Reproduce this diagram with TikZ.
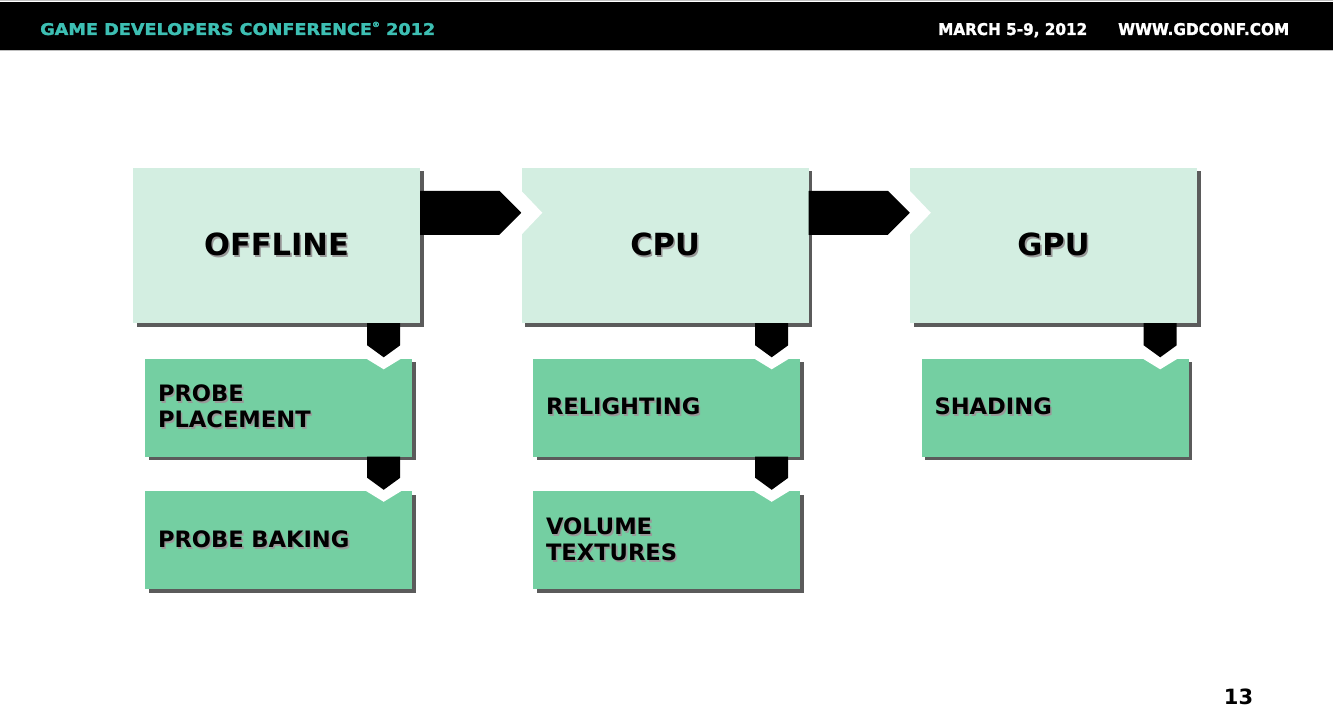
\documentclass[tikz,border=0pt]{standalone}
\usepackage{fontspec}
\usepackage{graphicx}
\setmainfont{DejaVu Sans}
\newfontfamily\headfont[FakeBold=1.6]{DejaVu Sans Bold}
\usetikzlibrary{calc,shadows}
\definecolor{topgreen}{HTML}{D3EEE1}
\definecolor{subgreen}{HTML}{74CFA2}
\definecolor{gdcteal}{HTML}{3DBFB3}
\newcommand\shd[1]{\makebox[0pt][l]{\hspace{1.6pt}\raisebox{-1.6pt}{\textcolor{black!40}{#1}}}#1}
\newcommand\vblock[2]{%
  \coordinate (vt) at ($(#2.north east)+(-28.5,-1)$);
  \coordinate (vs) at (vt |- #1.south);
  \fill[blockarrow] ($(vs)+(-16.5,0)$) -- ($(vt)+(-16.5,-12)$) -- (vt) -- ($(vt)+(16.5,-12)$) -- ($(vs)+(16.5,0)$) -- cycle;}
\newcommand\vnotch[1]{%
  \coordinate (vn) at ($(#1.north east)+(-28.5,0)$);
  \fill[notch] ($(vn)+(-18,0)$) -- ($(vn)+(0,11)$) -- ($(vn)+(18,0)$) -- cycle;}
\newcommand\hblock[2]{%
  \fill[blockarrow] ($(#1.north east)+(0,23)$) -- ($(#2.north west)+(-22,23)$) -- ($(#2.north west)+(0,45)$) -- ($(#2.north west)+(-22,67)$) -- ($(#1.north east)+(0,67)$) -- cycle;}
\newcommand\hnotch[1]{%
  \fill[notch] ($(#1.north west)+(0,23)$) -- ($(#1.north west)+(21,45)$) -- ($(#1.north west)+(0,67)$) -- cycle;}
\begin{document}
\begin{tikzpicture}[x=1pt,y=-1pt,
  boxshadow/.style={drop shadow={shadow xshift=3.5pt, shadow yshift=-3.5pt, fill=black!80, opacity=0.8}},
  bigbox/.style={fill=topgreen, minimum width=287pt, minimum height=155pt, inner sep=0pt,
    font=\bfseries\fontsize{30.5}{36}\selectfont, boxshadow},
  subbox/.style={fill=subgreen, minimum width=267pt, minimum height=98pt, inner xsep=13pt, inner ysep=0pt,
    text width=241pt, align=left, font=\bfseries\fontsize{22.6}{26}\selectfont, boxshadow},
  blockarrow/.style={fill=black},
  notch/.style={fill=white},
  headtext/.style={anchor=base west, inner sep=0pt, font=\headfont}]
\useasboundingbox (0,0) rectangle (1333,711);
\fill[white] (0,0) rectangle (1333,711);
% header bar
\fill[black] (0,2) rectangle (1333,50);
\draw[black!25, line width=1pt] (0,1) -- (1333,1);
\draw[black!25, line width=1pt] (0,51) -- (1333,51);
\node[headtext, text=gdcteal] (gdc) at (40,35) {\resizebox{395pt}{12pt}{GAME DEVELOPERS CONFERENCE\smash{\raisebox{0.9ex}{\scalebox{0.45}{®}}} 2012}};
\node[headtext, text=white] (date) at (938,35) {\resizebox{149pt}{12pt}{MARCH 5-9, 2012}};
\node[headtext, text=white] (web) at (1118,35) {\resizebox{171pt}{12pt}{WWW.GDCONF.COM}};
% main boxes
\node[bigbox] (off) at (276.5,245.5) {\shd{OFFLINE}};
\node[bigbox] (cpu) at (665,245.5) {\shd{CPU}};
\node[bigbox] (gpu) at (1053.5,245.5) {\shd{GPU}};
\node[subbox] (pp) at (278.5,407.5) {\shd{PROBE}\\\shd{PLACEMENT}};
\node[subbox] (pb) at (278.5,540) {\shd{PROBE BAKING}};
\node[subbox] (rel) at (666.5,407.5) {\shd{RELIGHTING}};
\node[subbox] (vol) at (666.5,540) {\shd{VOLUME}\\\shd{TEXTURES}};
\node[subbox] (sha) at (1055,407.5) {\shd{SHADING}};
% connectors
\hblock{off}{cpu}
\hblock{cpu}{gpu}
\hnotch{cpu}
\hnotch{gpu}
\vblock{off}{pp}
\vblock{pp}{pb}
\vblock{cpu}{rel}
\vblock{rel}{vol}
\vblock{gpu}{sha}
\vnotch{pp}
\vnotch{pb}
\vnotch{rel}
\vnotch{vol}
\vnotch{sha}
% page number
\node[inner sep=0pt, font=\bfseries\fontsize{21}{25}\selectfont] (pg) at (1238.5,697) {13};
\end{tikzpicture}
\end{document}
